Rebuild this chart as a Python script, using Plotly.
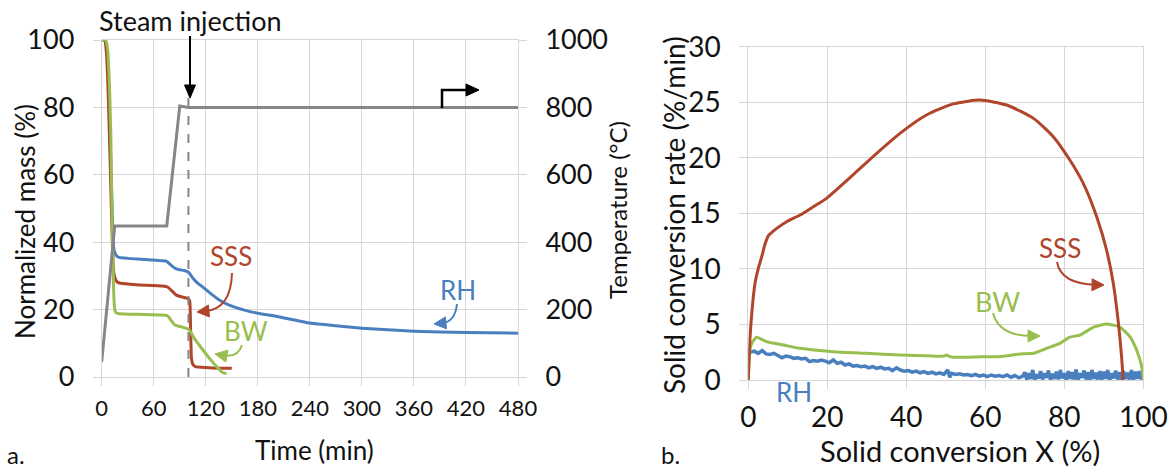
import plotly.graph_objects as go

W, H = 1171, 471

# ---------------- Panel a data ----------------
temp_t = [0, 15, 75, 90, 100, 480]
temp_c = [45, 448, 448, 804, 800, 800]

rh_t = [0, 4, 6, 8, 10, 12, 13, 14, 15, 17, 20, 30, 50, 70, 75, 80, 85, 90, 95, 100, 105, 110, 117, 125, 136, 150, 171, 205, 240, 270, 300, 330, 360, 420, 480]
rh_m = [100, 100, 97, 86, 68, 50, 42, 38, 37, 36, 35.5, 35.2, 34.9, 34.5, 34.3, 33.2, 32.2, 31.8, 31.6, 31.1, 29.4, 28.0, 26.6, 24.9, 22.8, 21.0, 19.4, 17.8, 16.0, 15.2, 14.5, 14.0, 13.6, 13.2, 13.0]

sss_t = [0, 3.5, 5.5, 7.5, 9.5, 11.5, 12.5, 13.5, 14.5, 16, 18, 22, 40, 70, 76, 80, 86, 92, 99.5, 101.5, 102.5, 103.5, 105, 108, 120, 135, 150]
sss_m = [100, 100, 96, 84, 66, 47, 38, 32, 30.2, 29.0, 28.2, 27.8, 27.4, 27.0, 26.7, 25.8, 24.3, 23.8, 23.3, 22.5, 14, 5.5, 3.8, 3.1, 2.8, 2.6, 2.6]

bw_t = [0, 4.5, 7, 9, 10.5, 11.5, 12.5, 13.5, 14.5, 15.5, 17, 20, 40, 70, 76, 80, 84.5, 90, 98, 101, 105.5, 115, 125, 135, 140, 144]
bw_m = [100, 100, 97, 86, 72, 55, 40, 28, 21.5, 19.5, 19.0, 18.8, 18.6, 18.4, 18.2, 16.8, 15.4, 15.0, 14.4, 14.0, 12.0, 8.6, 5.3, 2.4, 1.2, 1.0]

time_ticks = [0, 60, 120, 180, 240, 300, 360, 420, 480]
mass_ticks = [0, 20, 40, 60, 80, 100]
temp_ticks = [0, 200, 400, 600, 800, 1000]
steam_time = 100

# ---------------- Panel b data ----------------
sss_x = [0, 0.4, 1.0, 1.7, 2.5, 3.4, 4.2, 5.1, 6.0, 7.2, 9.7, 13.1, 16.5, 19.8, 23.2, 27.4, 32.5, 38.4, 45.1, 51.9, 58.6, 65.4, 72.2, 77.2, 81.4, 84.8, 88.2, 90.7, 92.4, 93.7, 94.5, 94.9]
sss_r = [0, 3.6, 6.5, 8.7, 10.0, 11.1, 12.2, 13.0, 13.3, 13.65, 14.25, 14.85, 15.6, 16.35, 17.4, 18.75, 20.4, 22.2, 23.85, 24.85, 25.2, 24.75, 23.55, 21.9, 19.8, 17.7, 14.7, 11.7, 8.7, 5.1, 2.1, 0]

bw_x = [0, 0.4, 1.0, 2.1, 4.6, 8.9, 13.1, 21.5, 30.0, 38.4, 46.8, 49.5, 50.2, 51.0, 51.9, 55.0, 59.5, 63.7, 66.0, 68.8, 72.2, 75.5, 78.9, 81.4, 84.0, 87.4, 90.7, 94.1, 96.6, 98.3, 99.6, 100]
bw_r = [0, 2.7, 3.4, 3.85, 3.45, 3.15, 2.85, 2.55, 2.4, 2.25, 2.15, 2.15, 2.25, 2.1, 2.05, 2.05, 2.1, 2.1, 2.2, 2.35, 2.4, 2.85, 3.3, 3.85, 4.05, 4.75, 5.05, 4.75, 3.9, 2.7, 1.2, 0]

rh_x = [0.5, 1.5, 2.5, 3.5, 4.5, 5.5, 6.5, 7.5, 8.5, 9.5, 10.5, 11.5, 12.5, 13.5, 14.5, 15.5, 16.5, 17.5, 18.5, 19.5,
        20.5, 21.5, 22.5, 23.5, 24.5, 25.5, 26.5, 27.5, 28.5, 29.5, 30.5, 31.5, 32.5, 33.5, 34.5, 35.5, 36.5, 37.5, 38.5, 39.5,
        40.5, 41.5, 42.5, 43.5, 44.5, 45.5, 46.5, 47.5, 48.5, 49.5, 50.5, 51.0, 51.5, 52.5, 53.5, 54.5, 55.5, 56.5, 57.5, 58.5,
        59.5, 60.5, 61.5, 62.5, 63.5, 64.5, 65.5, 66.5, 67.5, 68.5, 69.5,
        70.0, 70.5, 71.0, 71.5, 72.0, 72.5, 73.0, 73.5, 74.0, 74.5, 75.0, 75.5, 76.0, 76.5, 77.0, 77.5, 78.0, 78.5, 79.0, 79.5,
        80.0, 80.5, 81.0, 81.5, 82.0, 82.5, 83.0, 83.5, 84.0, 84.5, 85.0, 85.5, 86.0, 86.5, 87.0, 87.5, 88.0, 88.5, 89.0, 89.5,
        90.0, 90.5, 91.0, 91.5, 92.0, 92.5, 93.0, 93.5, 94.0, 94.5, 95.0, 95.5, 96.0, 96.5, 97.0, 97.5, 98.0, 98.5, 99.0, 99.5, 100.0]
rh_r = [2.5, 2.6, 2.4, 2.65, 2.35, 2.3, 2.4, 2.2, 2.0, 2.15, 2.1, 1.95, 2.0, 1.9, 1.95, 1.65, 1.75, 1.7, 1.8, 1.7,
        1.55, 1.8, 1.5, 1.6, 1.35, 1.45, 1.25, 1.3, 1.2, 1.25, 1.1, 1.2, 1.05, 1.15, 1.0, 1.05, 0.85, 1.1, 0.9, 0.8,
        0.85, 0.7, 0.8, 0.65, 0.75, 0.6, 0.7, 0.55, 0.65, 0.5, 0.9, 0.25, 0.6, 0.5, 0.55, 0.45, 0.5, 0.4, 0.5, 0.35,
        0.45, 0.3, 0.45, 0.35, 0.4, 0.3, 0.45, 0.25, 0.4, 0.2, 0.35,
        0.7, 0.05, 0.6, 0.1, 0.9, 0.0, 0.5, 0.15, 0.8, 0.05, 0.6, 0.2, 0.85, 0.0, 0.55, 0.1, 0.75, 0.05, 0.9, 0.15,
        0.6, 0.0, 0.8, 0.1, 0.7, 0.05, 0.95, 0.0, 0.6, 0.2, 0.85, 0.05, 0.7, 0.0, 0.9, 0.1, 0.65, 0.05, 0.8, 0.0,
        0.75, 0.1, 0.9, 0.0, 0.6, 0.15, 0.85, 0.05, 0.7, 0.0, 0.8, 0.1, 0.65, 0.05, 0.9, 0.0, 0.75, 0.1, 0.8, 0.05, 0.7]

conv_ticks = [0, 20, 40, 60, 80, 100]
rate_ticks = [0, 5, 10, 15, 20, 25, 30]

# ---------------- style ----------------
RED = "#B0452B"
BLUE = "#4A7FBF"
GREEN = "#97BE4E"
GRAY = "#868686"
GRID = "#D6D6D6"
FONT = "Lato"
TXT = "#111111"


def P(x, y):
    return x / W, 1 - y / H


fig = go.Figure()
fig.add_trace(go.Scatter(x=temp_t, y=temp_c, mode="lines", line=dict(color=GRAY, width=3), xaxis="x", yaxis="y2"))
fig.add_trace(go.Scatter(x=rh_t, y=rh_m, mode="lines", line=dict(color=BLUE, width=3, shape="spline", smoothing=0.5), xaxis="x", yaxis="y"))
fig.add_trace(go.Scatter(x=sss_t, y=sss_m, mode="lines", line=dict(color=RED, width=3, shape="spline", smoothing=0.4), xaxis="x", yaxis="y"))
fig.add_trace(go.Scatter(x=bw_t, y=bw_m, mode="lines", line=dict(color=GREEN, width=3, shape="spline", smoothing=0.4), xaxis="x", yaxis="y"))

fig.add_trace(go.Scatter(x=rh_x, y=rh_r, mode="lines", line=dict(color=BLUE, width=3.5), xaxis="x3", yaxis="y3"))
fig.add_trace(go.Scatter(x=bw_x, y=bw_r, mode="lines", line=dict(color=GREEN, width=3, shape="spline", smoothing=0.5), xaxis="x3", yaxis="y3"))
fig.add_trace(go.Scatter(x=sss_x, y=sss_r, mode="lines", line=dict(color=RED, width=3, shape="spline", smoothing=0.6), xaxis="x3", yaxis="y3"))

axcommon = dict(showgrid=True, gridcolor=GRID, gridwidth=1, zeroline=False, showline=True, linecolor=GRID,
                linewidth=1, mirror=True, ticks="outside", ticklen=8, tickcolor=GRID, automargin=False,
                tickfont=dict(family=FONT, size=27, color=TXT))

xa = dict(axcommon); xa.update(domain=[101.7 / W, 518 / W], range=[0, 480], tickvals=time_ticks, anchor="y",
                               tickfont=dict(family=FONT, size=22, color=TXT), ticklabelstandoff=4)
ya = dict(axcommon); ya.update(domain=[1 - 377 / H, 1 - 40 / H], range=[0, 100], tickvals=mass_ticks, anchor="x",
                               ticklabelstandoff=13)
ya2 = dict(range=[0, 1000], tickvals=temp_ticks, overlaying="y", side="right", anchor="x", showgrid=False,
           zeroline=False, showline=False, ticks="outside", ticklen=8, tickcolor=GRID, ticklabelstandoff=13,
           automargin=False, tickfont=dict(family=FONT, size=27, color=TXT))
xa3 = dict(axcommon); xa3.update(domain=[748.3 / W, 1143.3 / W], range=[0, 100], tickvals=conv_ticks, anchor="y3",
                                 ticklabelstandoff=4, tickfont=dict(family=FONT, size=28, color=TXT))
ya3 = dict(axcommon); ya3.update(domain=[1 - 380 / H, 1 - 46.7 / H], range=[0, 30], tickvals=rate_ticks, anchor="x3",
                                 ticklabelstandoff=13, tickfont=dict(family=FONT, size=28, color=TXT))

fig.update_layout(width=W, height=H, margin=dict(l=0, r=0, t=0, b=0, autoexpand=False), paper_bgcolor="white",
                  plot_bgcolor="white", showlegend=False, xaxis=xa, yaxis=ya, yaxis2=ya2, xaxis3=xa3, yaxis3=ya3,
                  font=dict(family=FONT, size=24, color=TXT))

# dashed steam-injection line
fig.add_shape(type="line", xref="x", yref="y", x0=steam_time, x1=steam_time, y0=0, y1=84,
              line=dict(color=GRAY, width=2, dash="dash"))


def curve(p0, c, p1, color):
    a, b = P(*p0); cx, cy = P(*c); d, e = P(*p1)
    fig.add_shape(type="path", xref="paper", yref="paper", path=f"M {a} {b} Q {cx} {cy} {d} {e}",
                  line=dict(color=color, width=2))


def head(tip, frm, color, L=12, Wd=12):
    import math
    dx, dy = tip[0] - frm[0], tip[1] - frm[1]
    n = math.hypot(dx, dy); ux, uy = dx / n, dy / n
    bx, by = tip[0] - ux * L, tip[1] - uy * L
    px_, py_ = -uy, ux
    p1 = (bx + px_ * Wd / 2, by + py_ * Wd / 2)
    p2 = (bx - px_ * Wd / 2, by - py_ * Wd / 2)
    pts = [P(*tip), P(*p1), P(*p2)]
    path = f"M {pts[0][0]} {pts[0][1]} L {pts[1][0]} {pts[1][1]} L {pts[2][0]} {pts[2][1]} Z"
    fig.add_shape(type="path", xref="paper", yref="paper", path=path, fillcolor=color,
                  line=dict(color=color, width=1))


def arrow(p0, c, tip, color):
    import math
    dx, dy = tip[0] - c[0], tip[1] - c[1]
    n = math.hypot(dx, dy)
    end = (tip[0] - dx / n * 8, tip[1] - dy / n * 8)
    curve(p0, c, end, color)
    head(tip, c, color)


arrow((232, 273), (231, 309), (197, 312), RED)
arrow((242, 345), (238, 358), (215, 354), GREEN)
arrow((457, 304), (455, 322), (434, 324), BLUE)
arrow((1057, 262), (1061, 284), (1104, 285), RED)
arrow((993, 313), (999, 336), (1040, 336), GREEN)

# bent temperature-axis arrow
a0 = P(442, 108); a1 = P(442, 90); a2 = P(467, 90)
fig.add_shape(type="path", xref="paper", yref="paper", path=f"M {a0[0]} {a0[1]} L {a1[0]} {a1[1]} L {a2[0]} {a2[1]}",
              line=dict(color="black", width=2.5))
head((479, 90), (460, 90), "black", L=13, Wd=12)

# steam injection arrow
head((190, 98), (190, 70), "black", L=13, Wd=11)
s0 = P(190, 36); s1 = P(190, 88)
fig.add_shape(type="line", xref="paper", yref="paper", x0=s0[0], y0=s0[1], x1=s1[0], y1=s1[1],
              line=dict(color="black", width=2))


def text(t, x, y, color=TXT, angle=0, size=24):
    px_, py_ = P(x, y)
    fig.add_annotation(text=t, x=px_, y=py_, xref="paper", yref="paper", showarrow=False, textangle=angle,
                       xanchor="center", yanchor="middle", font=dict(family=FONT, size=size, color=color))


text("Steam injection", 190, 21, size=27)
text("Normalized mass (%)", 25, 222, angle=-90, size=26)
text("Temperature (°C)", 617, 210, angle=-90, size=24)
text("Time (min)", 314, 450, size=26)
text("Solid conversion rate (%/min)", 674, 215, angle=-90, size=28)
text("Solid conversion X (%)", 960, 450, size=29)
text("a.", 16, 454)
text("b.", 670, 454)
text("SSS", 231, 256, RED, size=26)
text("BW", 246, 331, GREEN, size=26)
text("RH", 458, 290, BLUE, size=26)
text("SSS", 1060, 248, RED, size=26)
text("BW", 997, 301, GREEN, size=27)
text("RH", 794, 392, BLUE, size=26)

fig.write_html("out.html", config={"displayModeBar": False},
               post_script="document.body.style.margin='0px';document.body.style.overflow='hidden';")
